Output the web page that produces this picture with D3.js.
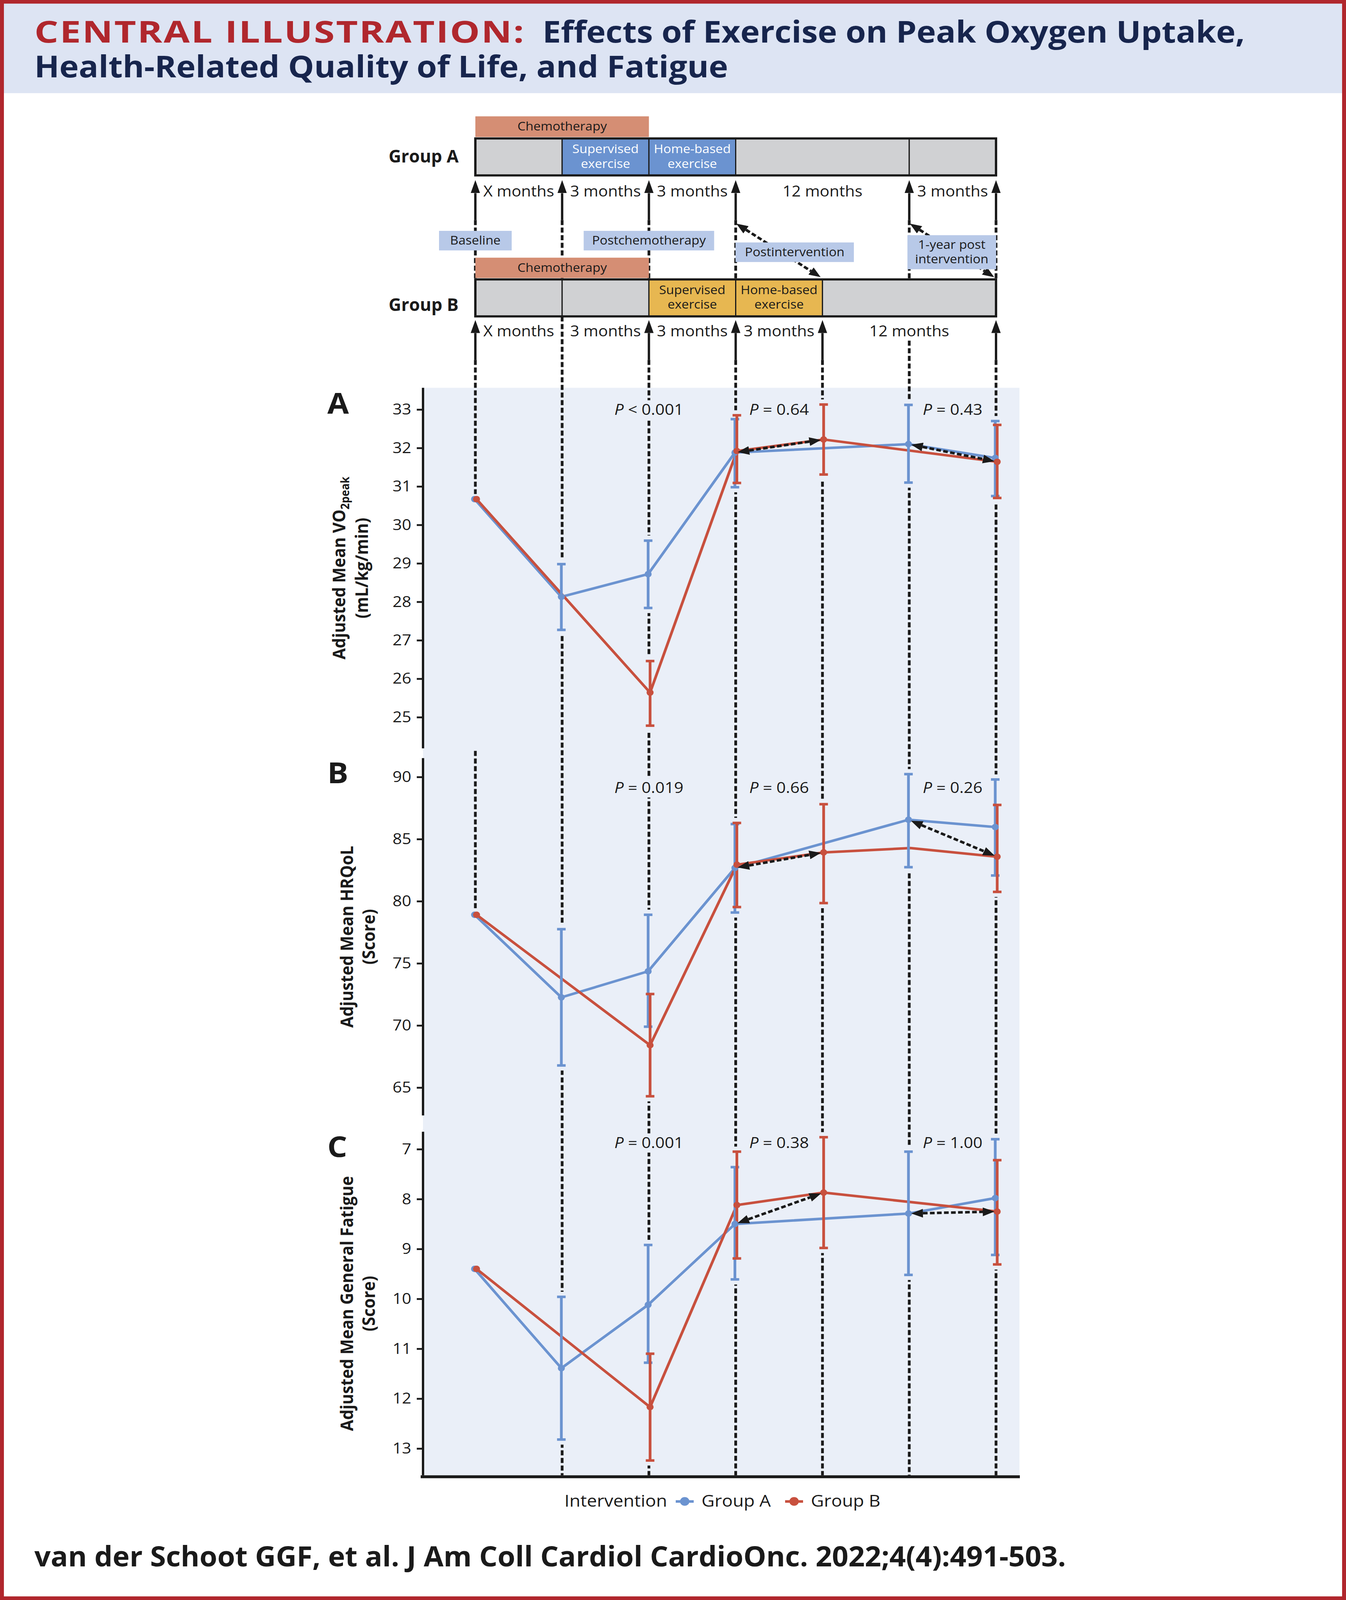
<!DOCTYPE html>
<html>
<head>
<meta charset="utf-8">
<script src="https://cdn.jsdelivr.net/npm/d3@7"></script>
<style>
html, body { margin: 0; padding: 0; background: #fff; overflow: hidden; }
svg { display: block; width: 100vw; height: 100vh; }
text { font-family: "Open Sans", "Noto Sans", sans-serif; }
</style>
</head>
<body>
<svg id="chart"></svg>
<script>
// ---------------- data ----------------
let timepoints = [0, 1, 2, 3, 4, 5, 6]

let vo2Ticks = [25, 26, 27, 28, 29, 30, 31, 32, 33]
let vo2A = [30.67, 28.13, 28.72, 31.88, null, 32.10, 31.74]
let vo2ALow = [null, 27.27, 27.84, 30.98, null, 31.10, 30.75]
let vo2AHigh = [null, 28.98, 29.59, 32.75, null, 33.12, 32.70]
let vo2B = [30.67, null, 25.64, 31.92, 32.22, null, 31.64]
let vo2BLow = [null, null, 24.78, 31.09, 31.31, null, 30.70]
let vo2BHigh = [null, null, 26.46, 32.85, 33.13, null, 32.60]
let vo2P = ["< 0.001", "= 0.64", "= 0.43"]

let hrqolTicks = [65, 70, 75, 80, 85, 90]
let hrqolA = [78.91, 72.26, 74.36, 82.68, null, 86.56, 85.97]
let hrqolALow = [null, 66.78, 69.90, 79.09, null, 82.74, 82.07]
let hrqolAHigh = [null, 77.75, 78.91, 86.21, null, 90.23, 89.80]
let hrqolB = [78.91, null, 68.41, 82.94, 83.93, 84.28, 83.58]
let hrqolBLow = [null, null, 64.30, 79.53, 79.85, null, 80.75]
let hrqolBHigh = [null, null, 72.53, 86.30, 87.81, null, 87.75]
let hrqolP = ["= 0.019", "= 0.66", "= 0.26"]

let fatigueTicks = [7, 8, 9, 10, 11, 12, 13]
let fatigueA = [9.40, 11.39, 10.12, 8.50, null, 8.29, 7.98]
let fatigueALow = [null, 9.96, 8.92, 7.36, null, 7.05, 6.80]
let fatigueAHigh = [null, 12.82, 11.28, 9.61, null, 9.52, 9.12]
let fatigueB = [9.40, null, 12.17, 8.12, 7.87, null, 8.25]
let fatigueBLow = [null, null, 11.10, 7.05, 6.76, null, 7.22]
let fatigueBHigh = [null, null, 13.24, 9.19, 8.98, null, 9.31]
let fatigueP = ["= 0.001", "= 0.38", "= 1.00"]

let pPositions = [2, 3.5, 5.5]
let comparisons = [[3, 4], [5, 6]]   // Group A point -> Group B point

// timeline
let segmentsA = [[0, 1, "rest"], [1, 2, "sup"], [2, 3, "home"], [3, 5, "rest"], [5, 6, "rest"]]
let segmentsB = [[0, 1, "rest"], [1, 2, "rest"], [2, 3, "sup"], [3, 4, "home"], [4, 6, "rest"]]
let segmentText = { sup: ["Supervised", "exercise"], home: ["Home-based", "exercise"] }
let monthsA = [[0, 1, "X months"], [1, 2, "3 months"], [2, 3, "3 months"], [3, 5, "12 months"], [5, 6, "3 months"]]
let monthsB = [[0, 1, "X months"], [1, 2, "3 months"], [2, 3, "3 months"], [3, 4, "3 months"], [4, 6, "12 months"]]
let arrowsA = [0, 1, 2, 3, 5, 6]
let arrowsB = [0, 2, 3, 4, 6]
let chemoSpan = [0, 2]
let phaseLinks = [[3, 4], [5, 6]]

let titleRed = "CENTRAL ILLUSTRATION:"
let titleLine1 = "Effects of Exercise on Peak Oxygen Uptake,"
let titleLine2 = "Health-Related Quality of Life, and Fatigue"
let footer = "van der Schoot GGF, et al. J Am Coll Cardiol CardioOnc. 2022;4(4):491-503."
let legendNames = ["Group A", "Group B"]

// ---------------- layout ----------------
let width = 3446
let height = 4415
let ink = "#1a1a1a"
let panelBg = "#eaeff8"
let blue = "#6b93d0"
let red = "#c8503e"
let navy = "#17254d"
let frameRed = "#b0272d"
let segFills = { rest: "#d0d1d3" }

let svg = d3.select("#chart")
    .attr("viewBox", `0 0 ${width} ${height}`)
    .attr("preserveAspectRatio", "none")

let x = d3.scaleLinear().domain([0, 6]).range([1217, 2550])

let defs = svg.append("defs")
let addHead = (id, len, half) => {
    defs.append("marker")
        .attr("id", id)
        .attr("markerUnits", "userSpaceOnUse")
        .attr("markerWidth", len + 2)
        .attr("markerHeight", half * 2 + 2)
        .attr("viewBox", `0 ${-half - 1} ${len + 2} ${half * 2 + 2}`)
        .attr("refX", 0)
        .attr("refY", 0)
        .attr("orient", "auto-start-reverse")
        .append("path")
        .attr("d", `M0,${-half}L${len},0L0,${half}Z`)
        .attr("fill", ink)
}
addHead("headSolid", 36, 12)
addHead("headDash", 30, 12)

// shortened line so the arrowhead tips land on the end points
let arrowLine = (g, x1, y1, x2, y2, len, both, dash, id) => {
    let dx = x2 - x1, dy = y2 - y1
    let d = Math.sqrt(dx * dx + dy * dy)
    let ux = dx / d, uy = dy / d
    let line = g.append("line")
        .attr("x1", both ? x1 + ux * len : x1)
        .attr("y1", both ? y1 + uy * len : y1)
        .attr("x2", x2 - ux * len)
        .attr("y2", y2 - uy * len)
        .attr("stroke", ink)
        .attr("stroke-width", 7)
        .attr("marker-end", `url(#${id})`)
    if (both) line.attr("marker-start", `url(#${id})`)
    if (dash) line.attr("stroke-dasharray", dash)
    return line
}

// ---------------- page frame and title ----------------
svg.append("rect").attr("width", width).attr("height", height).attr("fill", "#fff")
svg.append("rect").attr("width", width).attr("height", 257).attr("fill", "#dde4f3")

svg.append("text")
    .attr("x", 88).attr("y", 118)
    .attr("font-size", 84).attr("font-weight", 700)
    .attr("letter-spacing", 3)
    .attr("fill", frameRed)
    .attr("textLength", 1257).attr("lengthAdjust", "spacingAndGlyphs")
    .text(titleRed)
svg.append("text")
    .attr("x", 1389).attr("y", 118)
    .attr("font-size", 84).attr("font-weight", 700)
    .attr("fill", navy)
    .attr("textLength", 1798).attr("lengthAdjust", "spacingAndGlyphs")
    .text(titleLine1)
svg.append("text")
    .attr("x", 88).attr("y", 213)
    .attr("font-size", 84).attr("font-weight", 700)
    .attr("fill", navy)
    .attr("textLength", 1776).attr("lengthAdjust", "spacingAndGlyphs")
    .text(titleLine2)

// ---------------- panels (background first) ----------------
let panelLeft = 1083
let panelRight = 2610
let panelTop = 1070
let panelBottom = 4071

svg.append("rect")
    .attr("x", panelLeft).attr("y", panelTop)
    .attr("width", panelRight - panelLeft).attr("height", panelBottom - panelTop)
    .attr("fill", panelBg)

let panels = [
    { letter: "A", top: 1070, bottom: 2065, ticks: vo2Ticks, cal: [[25, 1979], [33, 1130]],
      a: [vo2A, vo2ALow, vo2AHigh], b: [vo2B, vo2BLow, vo2BHigh], p: vo2P,
      letterY: 1142, pY: 1145, titleX: [884, 942],
      title: [["Adjusted Mean VO", "2peak"], ["(mL/kg/min)"]] },
    { letter: "B", top: 2092, bottom: 3078, ticks: hrqolTicks, cal: [[65, 3001], [90, 2144]],
      a: [hrqolA, hrqolALow, hrqolAHigh], b: [hrqolB, hrqolBLow, hrqolBHigh], p: hrqolP,
      letterY: 2161, pY: 2188, titleX: [904, 960],
      title: [["Adjusted Mean HRQoL"], ["(Score)"]] },
    { letter: "C", top: 3123, bottom: 4071, ticks: fatigueTicks, cal: [[13, 3997], [7, 3171]],
      a: [fatigueA, fatigueALow, fatigueAHigh], b: [fatigueB, fatigueBLow, fatigueBHigh], p: fatigueP,
      letterY: 3193, pY: 3168, titleX: [904, 960],
      title: [["Adjusted Mean General Fatigue"], ["(Score)"]] }
]
panels.forEach(p => {
    p.y = d3.scaleLinear().domain([p.cal[0][0], p.cal[1][0]]).range([p.cal[0][1], p.cal[1][1]])
})

// ---------------- timeline ----------------
let rowA = { chemoTop: 321, chemoBottom: 378, barTop: 382, barBottom: 484, tip: 497, solidEnd: 607, monthsY: 542, labelY: 448 }
let rowB = { chemoTop: 711, chemoBottom: 767, barTop: 771, barBottom: 873, tip: 883, solidEnd: 993, monthsY: 928, labelY: 858 }

let dashG = svg.append("g")
    .attr("stroke", ink).attr("stroke-width", 7).attr("stroke-dasharray", "14,7")

// dashed guides between the two rows
arrowsA.forEach(c => {
    dashG.append("line").attr("x1", x(c)).attr("x2", x(c))
        .attr("y1", rowA.solidEnd).attr("y2", rowB.barTop)
})

// dashed guides from group B row down through the panels
timepoints.forEach(c => {
    let start
    if (arrowsB.includes(c)) start = rowB.solidEnd
    else if (monthsB.some(m => (m[0] + m[1]) / 2 === c)) start = rowB.monthsY + 12
    else start = rowB.barBottom
    if (c === 0) {
        let pA = panels[0], pB = panels[1]
        dashG.append("line").attr("x1", x(c)).attr("x2", x(c))
            .attr("y1", start).attr("y2", pA.y(pA.a[0][0]) - 14)
        dashG.append("line").attr("x1", x(c)).attr("x2", x(c))
            .attr("y1", pB.top - 20).attr("y2", pB.y(pB.a[0][0]) - 14)
    } else {
        dashG.append("line").attr("x1", x(c)).attr("x2", x(c))
            .attr("y1", start).attr("y2", panelBottom)
    }
})

// diagonal links between the two rows
let linkG = svg.append("g")
phaseLinks.forEach(l => {
    arrowLine(linkG, x(l[0]), 616, x(l[1]) - 3, 766, 32, true, "12,6", "headDash")
})

// phase label boxes
let phaseBoxes = [
    { lines: ["Baseline"], cx: 0, w: 186, top: 637, h: 54 },
    { lines: ["Postchemotherapy"], cx: 2, w: 334, top: 637, h: 54 },
    { lines: ["Postintervention"], cx: 3.68, w: 303, top: 669, h: 54 },
    { lines: ["1-year post", "intervention"], cx: 5.49, w: 227, top: 649, h: 94 }
]
phaseBoxes.forEach(b => {
    let cx = x(b.cx)
    svg.append("rect")
        .attr("x", cx - b.w / 2).attr("y", b.top)
        .attr("width", b.w).attr("height", b.h)
        .attr("fill", "#b8c9e8")
    b.lines.forEach((t, i) => {
        svg.append("text")
            .attr("x", cx)
            .attr("y", b.top + b.h / 2 + 11 + (i - (b.lines.length - 1) / 2) * 40)
            .attr("text-anchor", "middle")
            .attr("font-size", 33).attr("fill", ink)
            .text(t)
    })
})

let drawRow = (row, segs, exFill, exText, arrows, months, name) => {
    let g = svg.append("g")
    // chemotherapy
    g.append("rect")
        .attr("x", x(chemoSpan[0])).attr("y", row.chemoTop)
        .attr("width", x(chemoSpan[1]) - x(chemoSpan[0])).attr("height", row.chemoBottom - row.chemoTop)
        .attr("fill", "#d58e74")
    g.append("text")
        .attr("x", (x(chemoSpan[0]) + x(chemoSpan[1])) / 2)
        .attr("y", (row.chemoTop + row.chemoBottom) / 2 + 11)
        .attr("text-anchor", "middle").attr("font-size", 33).attr("fill", ink)
        .text("Chemotherapy")
    // bar segments
    g.selectAll("rect.seg").data(segs).join("rect")
        .attr("class", "seg")
        .attr("x", d => x(d[0])).attr("width", d => x(d[1]) - x(d[0]))
        .attr("y", row.barTop).attr("height", row.barBottom - row.barTop)
        .attr("fill", d => d[2] === "rest" ? segFills.rest : exFill)
        .attr("stroke", ink).attr("stroke-width", 3)
    g.append("rect")
        .attr("x", x(0)).attr("y", row.barTop)
        .attr("width", x(6) - x(0)).attr("height", row.barBottom - row.barTop)
        .attr("fill", "none").attr("stroke", ink).attr("stroke-width", 6)
    segs.filter(d => d[2] !== "rest").forEach(d => {
        segmentText[d[2]].forEach((t, i) => {
            g.append("text")
                .attr("x", (x(d[0]) + x(d[1])) / 2)
                .attr("y", (row.barTop + row.barBottom) / 2 - 10 + i * 40)
                .attr("text-anchor", "middle").attr("font-size", 33).attr("fill", exText)
                .text(t)
        })
    })
    // group label
    g.append("text")
        .attr("x", 995).attr("y", row.labelY)
        .attr("font-size", 49).attr("font-weight", 700).attr("fill", ink)
        .attr("textLength", 179).attr("lengthAdjust", "spacingAndGlyphs")
        .text(name)
    // arrows
    arrows.forEach(c => {
        arrowLine(g, x(c), row.solidEnd, x(c), row.tip, 36, false, null, "headSolid")
            .attr("stroke-width", 6)
    })
    // durations
    g.selectAll("text.months").data(months).join("text")
        .attr("class", "months")
        .attr("x", d => (x(d[0]) + x(d[1])) / 2)
        .attr("y", row.monthsY)
        .attr("text-anchor", "middle").attr("font-size", 41).attr("fill", ink)
        .text(d => d[2])
}
drawRow(rowA, segmentsA, "#6b93d0", "#fff", arrowsA, monthsA, "Group A")
drawRow(rowB, segmentsB, "#e7b751", ink, arrowsB, monthsB, "Group B")

// ---------------- panel contents ----------------
let offsetA = -2
let offsetB = 3

panels.forEach(p => {
    let y = p.y
    let g = svg.append("g")

    // y axis
    let axis = d3.axisLeft(y).tickValues(p.ticks).tickSize(16).tickPadding(14).tickFormat(d3.format("d"))
    let ag = g.append("g")
        .attr("transform", `translate(${panelLeft},0)`)
        .call(axis)
        .attr("font-size", 42)
        .attr("font-family", "Open Sans, sans-serif")
    ag.select(".domain").remove()
    ag.selectAll(".tick line").attr("stroke", ink).attr("stroke-width", 5)
    ag.selectAll(".tick text").attr("fill", ink)
    g.append("line")
        .attr("x1", panelLeft).attr("x2", panelLeft)
        .attr("y1", p.top).attr("y2", p.bottom)
        .attr("stroke", ink).attr("stroke-width", 6)

    // panel letter
    g.append("text")
        .attr("x", 838).attr("y", p.letterY)
        .attr("font-family", "Liberation Sans, Arial, sans-serif")
        .attr("font-size", 80).attr("font-weight", 700).attr("fill", ink)
        .text(p.letter)

    // y title
    let cy = (p.top + p.bottom) / 2
    p.title.forEach((parts, i) => {
        let t = g.append("text")
            .attr("transform", `translate(${p.titleX[i]},${cy}) rotate(-90)`)
            .attr("text-anchor", "middle")
            .attr("font-family", "Liberation Sans, Arial, sans-serif")
            .attr("font-size", 45).attr("font-weight", 700).attr("fill", ink)
        t.append("tspan").text(parts[0])
        if (parts[1]) t.append("tspan").attr("font-size", 30).attr("dy", 10).text(parts[1])
    })

    // P values, on a patch of background that breaks the dashed guides
    p.p.forEach((s, i) => {
        let patch = g.append("rect").attr("fill", panelBg)
        let t = g.append("text")
            .attr("x", x(pPositions[i])).attr("y", p.pY)
            .attr("text-anchor", "middle").attr("font-size", 42).attr("fill", ink)
        t.append("tspan").attr("font-style", "italic").text("P")
        t.append("tspan").text(" " + s)
        let bb = t.node().getBBox()
        patch.attr("x", bb.x - 4).attr("y", bb.y + 4)
            .attr("width", bb.width + 8).attr("height", bb.height - 4)
    })

    let groups = [
        { vals: p.a, color: blue, off: offsetA },
        { vals: p.b, color: red, off: offsetB }
    ]
    let bars = []
    groups.forEach(gr => {
        timepoints.forEach(i => {
            if (gr.vals[1][i] != null) bars.push({ i: i, lo: gr.vals[1][i], hi: gr.vals[2][i], color: gr.color, off: gr.off })
        })
    })

    // halos that break the dashed guides around error bars
    g.selectAll("line.halo").data(bars).join("line")
        .attr("class", "halo")
        .attr("x1", d => x(d.i) + d.off).attr("x2", d => x(d.i) + d.off)
        .attr("y1", d => Math.min(y(d.lo), y(d.hi)) - 14)
        .attr("y2", d => Math.max(y(d.lo), y(d.hi)) + 14)
        .attr("stroke", panelBg).attr("stroke-width", 24)

    // lines
    groups.forEach(gr => {
        let pts = timepoints.filter(i => gr.vals[0][i] != null)
        g.append("path")
            .datum(pts)
            .attr("d", d3.line().x(i => x(i) + gr.off).y(i => y(gr.vals[0][i])))
            .attr("fill", "none").attr("stroke", gr.color)
            .attr("stroke-width", 7).attr("stroke-linejoin", "round")
    })

    // error bars
    bars.forEach(d => {
        let bx = x(d.i) + d.off
        g.append("line")
            .attr("x1", bx).attr("x2", bx)
            .attr("y1", y(d.lo)).attr("y2", y(d.hi))
            .attr("stroke", d.color).attr("stroke-width", 7)
        ;[d.lo, d.hi].forEach(v => {
            g.append("line")
                .attr("x1", bx - 11).attr("x2", bx + 11)
                .attr("y1", y(v)).attr("y2", y(v))
                .attr("stroke", d.color).attr("stroke-width", 7)
        })
    })

    // points
    groups.forEach(gr => {
        let pts = timepoints.filter(i => gr.vals[0][i] != null && (i === 0 || gr.vals[1][i] != null))
        g.selectAll(null).data(pts).join("circle")
            .attr("cx", i => x(i) + gr.off).attr("cy", i => y(gr.vals[0][i]))
            .attr("r", 9).attr("fill", gr.color)
    })

    // comparison arrows
    comparisons.forEach(c => {
        let x1 = x(c[0]) + offsetA, y1 = y(p.a[0][c[0]])
        let x2 = x(c[1]) + offsetB, y2 = y(p.b[0][c[1]])
        let dx = x2 - x1, dy = y2 - y1, d = Math.sqrt(dx * dx + dy * dy)
        let inset = 7
        arrowLine(g, x1 + dx / d * inset, y1 + dy / d * inset, x2 - dx / d * inset, y2 - dy / d * inset,
            30, true, "12,6", "headDash")
    })
})

// bottom axis line
svg.append("line")
    .attr("x1", 1077).attr("x2", 2611)
    .attr("y1", 4075).attr("y2", 4075)
    .attr("stroke", ink).attr("stroke-width", 8)

// ---------------- legend ----------------
let legend = svg.append("g")
legend.append("text")
    .attr("x", 1445).attr("y", 4157)
    .attr("font-size", 46).attr("fill", ink)
    .text("Intervention")
let legendX = [1753, 2033]
let legendColors = [blue, red]
legendNames.forEach((n, i) => {
    let cx = legendX[i]
    legend.append("line")
        .attr("x1", cx - 23).attr("x2", cx + 23)
        .attr("y1", 4143).attr("y2", 4143)
        .attr("stroke", legendColors[i]).attr("stroke-width", 7)
    legend.append("circle")
        .attr("cx", cx).attr("cy", 4143).attr("r", 12)
        .attr("fill", legendColors[i])
    legend.append("text")
        .attr("x", cx + 43).attr("y", 4157)
        .attr("font-size", 46).attr("fill", ink)
        .text(n)
})

// ---------------- footer ----------------
svg.append("text")
    .attr("x", 88).attr("y", 4322)
    .attr("font-size", 78).attr("font-weight", 700).attr("fill", ink)
    .attr("textLength", 2641).attr("lengthAdjust", "spacingAndGlyphs")
    .text(footer)

// red frame on top
svg.append("rect")
    .attr("x", 0).attr("y", 0).attr("width", width).attr("height", height)
    .attr("fill", "none").attr("stroke", frameRed).attr("stroke-width", 20)
</script>
</body>
</html>
